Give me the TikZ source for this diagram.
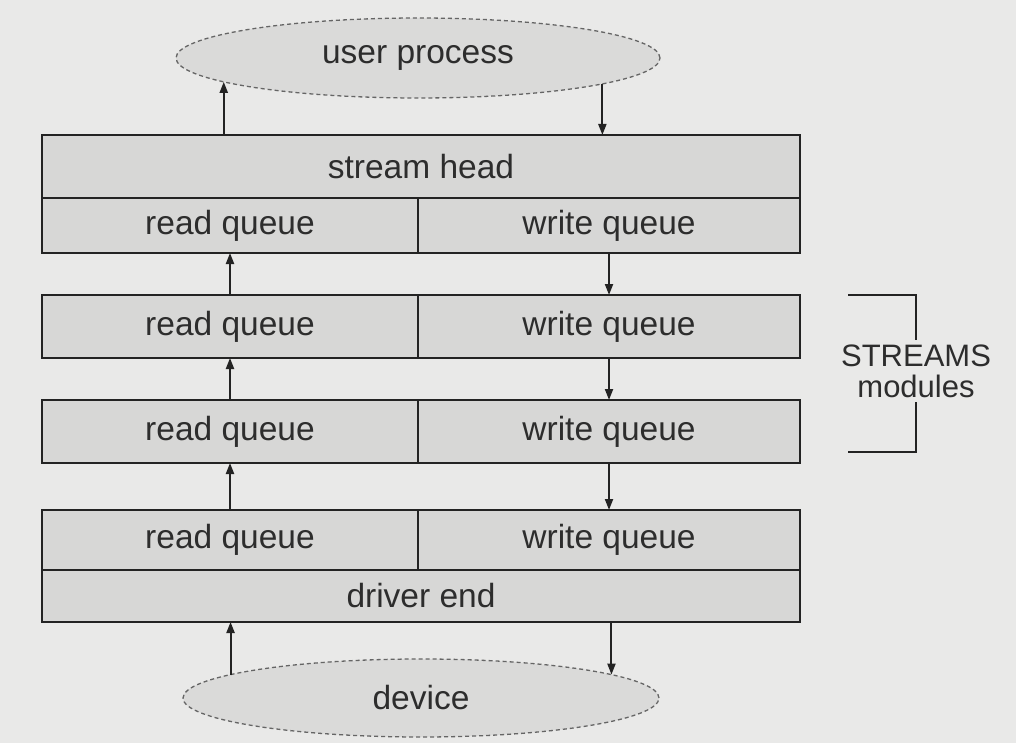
\documentclass[tikz,border=0pt]{standalone}
\usepackage{fontspec}
\setmainfont{Liberation Sans}
\usetikzlibrary{arrows.meta,shapes.geometric}
\definecolor{paper}{RGB}{233,233,232}
\definecolor{boxfill}{RGB}{215,215,214}
\definecolor{ink}{RGB}{35,35,35}
\definecolor{txt}{RGB}{45,45,45}
\tikzset{
  cell/.style={draw=ink, line width=2pt, fill=boxfill, inner sep=0pt, outer sep=0pt,
    text=txt, font=\fontsize{33.5}{38}\selectfont, minimum height=#1},
  cell/.default=63,
  endpoint/.style={ellipse, draw=ink!70, line width=1.3pt, dash pattern=on 4pt off 3pt,
    fill=boxfill!85!paper, inner sep=0pt, outer sep=0pt, text=txt,
    font=\fontsize{33.5}{38}\selectfont},
  flow/.style={draw=ink, line width=2pt, -{Triangle[length=11pt,width=8pt]}},
  bracket/.style={draw=ink, line width=2pt}
}
\begin{document}
\begin{tikzpicture}[x=1pt,y=-1pt]
  \fill[paper] (0,0) rectangle (1016,743);
  \useasboundingbox (0,0) rectangle (1016,743);

  % user process and device
  \node[endpoint, minimum width=484, minimum height=80] (user) at (418,58) {user process};
  \node[endpoint, minimum width=476, minimum height=78] (dev) at (421,698) {device};

  % stream head
  \node[cell=63, minimum width=758] (sh) at (421,166.5) {stream head};
  \node[cell=55, minimum width=376] (r0) at (230,225.5) {read queue};
  \node[cell=55, minimum width=382] (w0) at (609,225.5) {write queue};

  % STREAMS modules
  \node[cell=63, minimum width=376] (r1) at (230,326.5) {read queue};
  \node[cell=63, minimum width=382] (w1) at (609,326.5) {write queue};
  \node[cell=63, minimum width=376] (r2) at (230,431.5) {read queue};
  \node[cell=63, minimum width=382] (w2) at (609,431.5) {write queue};

  % driver end
  \node[cell=60, minimum width=376] (r3) at (230,540) {read queue};
  \node[cell=60, minimum width=382] (w3) at (609,540) {write queue};
  \node[cell=52, minimum width=758] (de) at (421,596) {driver end};

  % read side: upward flow
  \draw[flow] (sh.north -| user.187.43) -- (user.187.43);
  \draw[flow] (r1.north) -- (r0.south);
  \draw[flow] (r2.north) -- (r1.south);
  \draw[flow] (r3.north) -- (r2.south);
  \draw[flow] (dev.173.05) -- (de.south -| dev.173.05);

  % write side: downward flow
  \draw[flow] (user.352.37) -- (sh.north -| user.352.37);
  \draw[flow] (w0.south) -- (w1.north);
  \draw[flow] (w1.south) -- (w2.north);
  \draw[flow] (w2.south) -- (w3.north);
  \draw[flow] (de.south -| dev.7.55) -- (dev.7.55);

  % bracket around the modules
  \node[text=txt, font=\fontsize{31}{31}\selectfont, align=center, inner sep=0pt]
    (lbl) at (916,371) {STREAMS\\modules};
  \draw[bracket] (848,295) -- (916,295) -- (916,340);
  \draw[bracket] (916,402) -- (916,452) -- (848,452);
\end{tikzpicture}
\end{document}
